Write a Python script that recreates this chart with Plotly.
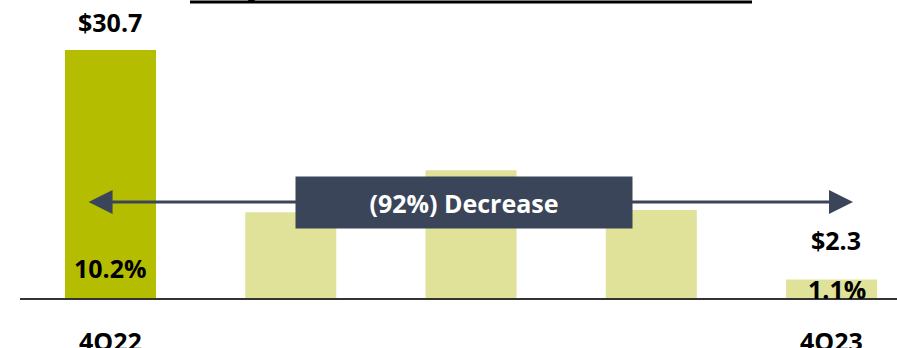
import plotly.graph_objects as go

# ---- data ----
quarters = ["4Q22", "1Q23", "2Q23", "3Q23", "4Q23"]
values = [30.7, 10.6, 15.8, 10.9, 2.3]
value_labels = ["$30.7", "", "", "", "$2.3"]
pct_labels = ["10.2%", "", "", "", "1.1%"]
tick_labels = ["4Q22", "", "", "", "4Q23"]
change_label = "(92%) Decrease"

DARK = "#B5BD00"
LIGHT = "#E0E29A"
NAVY = "#3B4559"
FONT = "Open Sans"
FS = 25

colors = [DARK] + [LIGHT] * (len(values) - 1)
xs = list(range(len(values)))

fig = go.Figure()
fig.add_trace(go.Bar(x=xs, y=values, marker=dict(color=colors, line=dict(width=0)),
                     width=0.505, hoverinfo="skip"))

W, H = 897, 348
L, R, T, B = 20, 0, 0, 50
plot_h = H - T - B
y_top = 30.7 * plot_h / 248.0

fig.update_layout(
    width=W, height=H, margin=dict(l=L, r=R, t=T, b=B),
    paper_bgcolor="white", plot_bgcolor="white", showlegend=False,
    xaxis=dict(range=[-0.502, 4.363], showgrid=False, zeroline=False, showticklabels=False,
               showline=True, linecolor="#333333", linewidth=2, ticks=""),
    yaxis=dict(range=[0, y_top], showgrid=False, zeroline=False, showticklabels=False,
               showline=False),
    font=dict(family=FONT, color="black"),
)

anns = []
# value labels above bars
shifts_val = {0: (0, 28), 4: (4, 39)}
for i, (v, t) in enumerate(zip(values, value_labels)):
    if t:
        xs_, ys_ = shifts_val[i]
        anns.append(dict(x=i, y=v, text=f"<b>{t}</b>", showarrow=False, xshift=xs_, yshift=ys_,
                         yanchor="middle", font=dict(size=FS, family=FONT, color="black")))
# percent labels near base
pct_shift = {0: (0, 30), 4: (5, 9)}
for i, t in enumerate(pct_labels):
    if t:
        xs_, ys_ = pct_shift[i]
        anns.append(dict(x=i, y=0, text=f"<b>{t}</b>", showarrow=False, xshift=xs_, yshift=ys_,
                         yanchor="middle", font=dict(size=FS, family=FONT, color="black")))
# category labels
for i, t in enumerate(tick_labels):
    if t:
        anns.append(dict(x=i, y=0, text=f"<b>{t}</b>", showarrow=False, yshift=-43,
                         yanchor="middle", font=dict(size=FS, family=FONT, color="black")))

# double-headed arrow
arrow_y = (298 - 202) / (248 / 30.7)
anns.append(dict(x=4.119, y=arrow_y, ax=-0.13, ay=arrow_y, axref="x", ayref="y", xref="x", yref="y",
                 text="", showarrow=True, arrowhead=2, arrowside="end+start", arrowsize=1.6,
                 arrowwidth=3, arrowcolor=NAVY, standoff=0, startstandoff=0))
# decrease box
anns.append(dict(x=(1.029 + 2.893) / 2, y=arrow_y, xref="x", yref="y", showarrow=False,
                 text=f"<b>{change_label}</b>", bgcolor=NAVY, width=336, height=51, borderpad=0,
                 font=dict(size=FS, family=FONT, color="white"), yanchor="middle", xanchor="center"))
# cut-off title descender
anns.append(dict(x=241 / W, y=1 - 6 / plot_h, xref="paper", yref="paper", text="<b>y</b>",
                 showarrow=False, xanchor="center", yanchor="bottom",
                 font=dict(size=30, family=FONT, color="black")))
fig.update_layout(annotations=anns)

# title underline
fig.add_shape(type="line", xref="paper", yref="paper", x0=(190 - L) / (W - L), x1=(752 - L) / (W - L),
              y0=1 - 2 / plot_h, y1=1 - 2 / plot_h, line=dict(color="black", width=3))

fig.write_html("out.html")
